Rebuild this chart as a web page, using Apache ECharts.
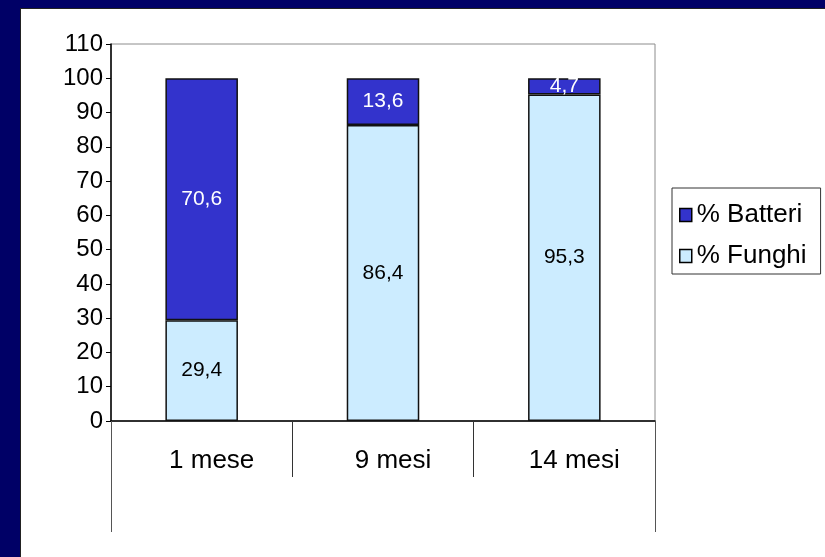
<!DOCTYPE html>
<html>
<head>
<meta charset="utf-8">
<script src="https://cdn.jsdelivr.net/npm/echarts@6/dist/echarts.min.js"></script>
<style>
  html, body { margin: 0; padding: 0; width: 825px; height: 557px; overflow: hidden; background: #000066; }
  #panel { position: absolute; left: 20px; top: 8px; width: 805px; height: 549px; background: #ffffff; box-sizing: border-box; border-left: 1px solid #222; border-top: 1px solid #222; }
  #chart { position: absolute; left: 0; top: 0; width: 825px; height: 557px; }
</style>
</head>
<body>
<div id="panel"></div>
<div id="chart"></div>
<script>
const categories = ['1 mese', '9 mesi', '14 mesi'];
const funghi = [29.4, 86.4, 95.3];
const batteri = [70.6, 13.6, 4.7];
const yTicks = { min: 0, max: 110, interval: 10 };

const FONT = '"Liberation Sans", Arial, sans-serif';
const fmt = p => String(p.value).replace('.', ',');

const chart = echarts.init(document.getElementById('chart'), null, { renderer: 'canvas' });
chart.setOption({
  animation: false,
  backgroundColor: 'transparent',
  textStyle: { fontFamily: FONT },
  grid: {
    left: 111, top: 44, right: 170, bottom: 136,
    show: true, borderColor: '#8c8c8c', borderWidth: 1, backgroundColor: 'transparent'
  },
  legend: {
    orient: 'vertical',
    left: 672, top: 188,
    data: ['% Batteri', '% Funghi'],
    icon: 'rect',
    itemWidth: 12, itemHeight: 13,
    itemGap: 15,
    padding: [14, 14, 5, 7],
    borderColor: '#333', borderWidth: 1,
    textStyle: { fontFamily: FONT, fontSize: 26, color: '#000', lineHeight: 25 },
    itemStyle: { borderColor: '#000', borderWidth: 1.5 }
  },
  xAxis: [{
    type: 'category',
    data: categories,
    axisLine: { show: true, lineStyle: { color: '#000', width: 1.5 } },
    axisTick: { show: true, interval: 0, length: 56, lineStyle: { color: '#333', width: 1 } },
    axisLabel: { fontFamily: FONT, fontSize: 26, color: '#000', margin: 27, lineHeight: 26, padding: [0, 0, 0, 20] },
    splitLine: { show: false }
  }, {
    type: 'category',
    data: [''],
    position: 'bottom',
    axisLine: { show: false },
    axisTick: { show: true, length: 111, lineStyle: { color: '#555', width: 1 } },
    axisLabel: { show: false },
    splitLine: { show: false }
  }],
  yAxis: {
    type: 'value',
    min: yTicks.min, max: yTicks.max, interval: yTicks.interval,
    axisLine: { show: true, lineStyle: { color: '#000', width: 1.5 } },
    axisTick: { show: true, length: 5, lineStyle: { color: '#000' } },
    axisLabel: { fontFamily: FONT, fontSize: 24, color: '#000', margin: 8 },
    splitLine: { show: false }
  },
  series: [{
    name: '% Funghi',
    type: 'bar',
    stack: 'tot',
    barWidth: '40%',
    data: funghi,
    itemStyle: { color: '#CCECFF', borderColor: '#111', borderWidth: 1.5 },
    label: { show: true, position: 'inside', formatter: fmt, color: '#000', fontFamily: FONT, fontSize: 21 }
  }, {
    name: '% Batteri',
    type: 'bar',
    stack: 'tot',
    barWidth: '40%',
    data: batteri,
    itemStyle: { color: '#3333CC', borderColor: '#111', borderWidth: 1.5 },
    label: { show: true, position: 'inside', formatter: fmt, color: '#fff', fontFamily: FONT, fontSize: 21 }
  }]
});
</script>
</body>
</html>
